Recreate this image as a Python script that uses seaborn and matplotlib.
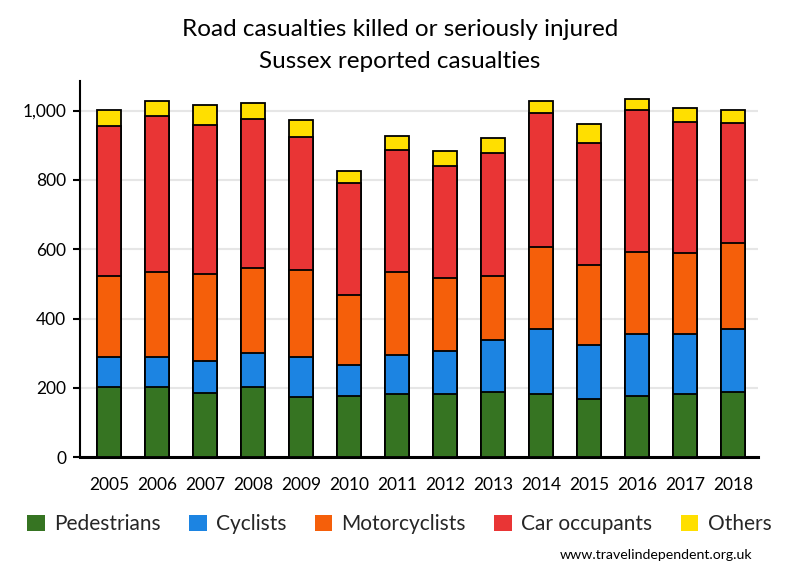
import matplotlib
matplotlib.use("Agg")
import matplotlib.pyplot as plt
import matplotlib.patches as mpatches
from matplotlib.ticker import FuncFormatter
import seaborn as sns
import pandas as pd
import numpy as np

years = ["2005", "2006", "2007", "2008", "2009", "2010", "2011",
         "2012", "2013", "2014", "2015", "2016", "2017", "2018"]
pedestrians   = [202, 202, 185, 202, 173, 176, 182, 182, 187, 182, 167, 176, 182, 187]
cyclists      = [86, 86, 92, 98, 115, 89, 112, 124, 150, 187, 156, 179, 173, 182]
motorcyclists = [234, 246, 251, 245, 251, 202, 240, 210, 185, 237, 231, 236, 233, 248]
car_occupants = [432, 450, 430, 430, 384, 323, 351, 323, 355, 386, 352, 410, 378, 346]
others        = [47, 43, 57, 46, 49, 35, 41, 44, 43, 35, 54, 32, 41, 38]

series_names = ["Pedestrians", "Cyclists", "Motorcyclists", "Car occupants", "Others"]
series_vals = [pedestrians, cyclists, motorcyclists, car_occupants, others]
colors = ["#367422", "#1c84e2", "#f55f0a", "#e93535", "#ffdf00"]

sns.set_theme(style="white")
plt.rcParams["font.family"] = ["Lato", "DejaVu Sans"]

fig = plt.figure(figsize=(8, 5.8), dpi=100)
ax = fig.add_axes([0.1, 0.2116, 0.8475, 0.6493])

df = pd.DataFrame({"year": years})
cum = np.zeros(len(years))
cums = []
for vals in series_vals:
    cum = cum + np.array(vals)
    cums.append(cum.copy())

for i in range(len(series_vals) - 1, -1, -1):
    df["v"] = cums[i]
    sns.barplot(data=df, x="year", y="v", color=colors[i], width=0.5,
                edgecolor="black", linewidth=1.3, saturation=1, ax=ax, zorder=3)

ax.set_xlim(-0.61, 13.52)
ax.set_ylim(0, 1086)
ax.set_yticks([0, 200, 400, 600, 800, 1000])
ax.yaxis.set_major_formatter(FuncFormatter(lambda v, p: f"{int(v):,}"))
ax.grid(axis="y", color="#e6e6e6", linewidth=1.5, zorder=0)
ax.grid(axis="x", visible=False)
ax.set_axisbelow(True)
ax.set_xlabel("")
ax.set_ylabel("")
for s in ["top", "right"]:
    ax.spines[s].set_visible(False)
ax.spines["left"].set_color("black")
ax.spines["left"].set_linewidth(1.5)
ax.spines["bottom"].set_color("black")
ax.spines["bottom"].set_linewidth(2.2)
ax.tick_params(axis="y", left=True, length=5, width=1.5, color="black",
               pad=5, labelsize=12.5, labelcolor="black")
ax.tick_params(axis="x", bottom=False, length=0, pad=14, labelsize=12.5,
               labelcolor="black")

fig.text(0.5, 0.949, "Road casualties killed or seriously injured",
         ha="center", va="center", fontsize=17.5, color="black")
fig.text(0.5, 0.894, "Sussex reported casualties",
         ha="center", va="center", fontsize=17.5, color="black")

handles = [mpatches.Patch(facecolor=c, edgecolor="none", label=n)
           for c, n in zip(colors, series_names)]
fig.legend(handles=handles, loc="center", bbox_to_anchor=(0.499, 0.096), ncol=5,
           frameon=False, fontsize=15, handlelength=0.85, handleheight=0.85,
           handletextpad=0.45, columnspacing=1.35)

fig.text(0.94, 0.043, "www.travelindependent.org.uk", ha="right", va="center",
         fontsize=10.2, color="black")

fig.savefig("out.png", dpi=100)
